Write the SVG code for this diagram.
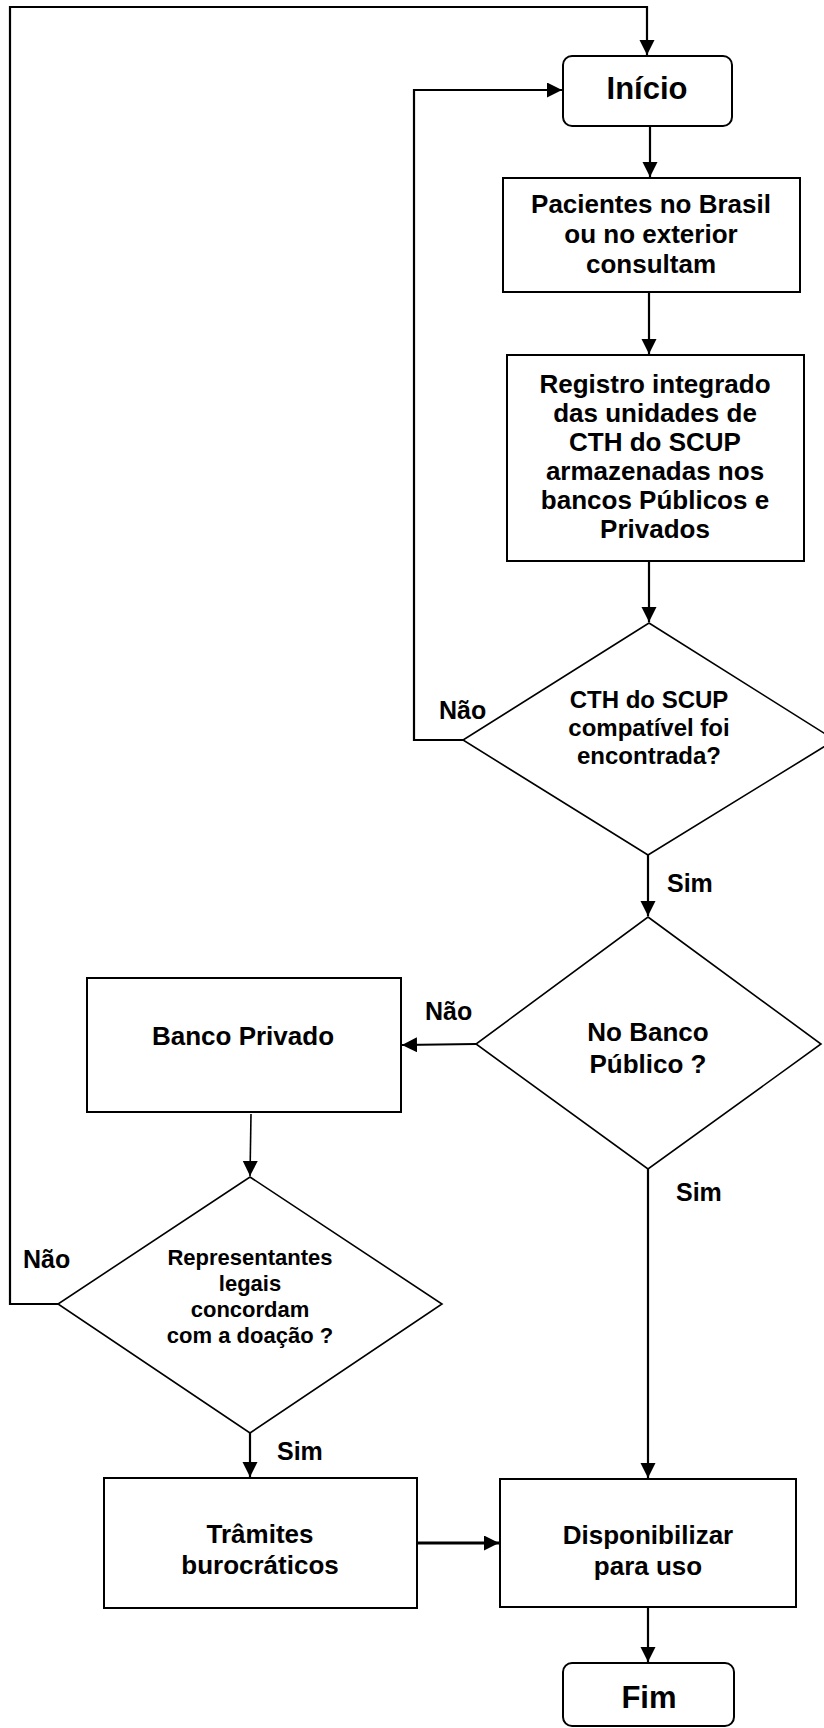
<svg xmlns="http://www.w3.org/2000/svg" width="824" height="1728" viewBox="0 0 824 1728">
<defs>
<marker id="ah" markerUnits="userSpaceOnUse" markerWidth="16" markerHeight="16" refX="15" refY="7.5" orient="auto">
<path d="M0,0 L15,7.5 L0,15 z" fill="#000"/>
</marker>
<style>
.box{fill:#fff;stroke:#000;stroke-width:2}
.dia{fill:#fff;stroke:#000;stroke-width:1.6}
.ln{fill:none;stroke:#000;stroke-width:2.2}
.t{font-family:"Liberation Sans",Arial,sans-serif;font-weight:bold;fill:#000;text-anchor:middle}
.big{font-size:31px}
.m{font-size:26px}
.d1{font-size:24px}
.d3{font-size:22px}
.lb{font-family:"Liberation Sans",Arial,sans-serif;font-weight:bold;fill:#000;font-size:25px}
</style>
</defs>
<rect width="824" height="1728" fill="#fff"/>
<g id="connectors">
<polyline class="ln" points="58,1304 10,1304 10,7 647,7 647,55" marker-end="url(#ah)"/>
<polyline class="ln" points="463,740 414,740 414,90 562,90" marker-end="url(#ah)"/>
<line class="ln" x1="650" y1="126" x2="650" y2="177" marker-end="url(#ah)"/>
<line class="ln" x1="649" y1="292" x2="649" y2="354" marker-end="url(#ah)"/>
<line class="ln" x1="649" y1="561" x2="649" y2="622" marker-end="url(#ah)"/>
<line class="ln" x1="648" y1="855" x2="648" y2="916" marker-end="url(#ah)"/>
<line class="ln" x1="476" y1="1044" x2="402" y2="1045" marker-end="url(#ah)"/>
<line class="ln" style="stroke-width:1.6" x1="251" y1="1114" x2="250" y2="1176" marker-end="url(#ah)"/>
<line class="ln" x1="648" y1="1169" x2="648" y2="1478" marker-end="url(#ah)"/>
<line class="ln" x1="250" y1="1433" x2="250" y2="1477" marker-end="url(#ah)"/>
<line class="ln" style="stroke-width:3" x1="417" y1="1543" x2="499" y2="1543" marker-end="url(#ah)"/>
<line class="ln" x1="648" y1="1606" x2="648" y2="1662" marker-end="url(#ah)"/>
</g>
<g id="inicio">
<rect class="box" x="563" y="56" width="169" height="70" rx="9"/>
<text class="t big" x="647" y="99">Início</text>
</g>
<g id="pacientes">
<rect class="box" x="503" y="178" width="297" height="114"/>
<text class="t m" x="651" y="213">Pacientes no Brasil</text>
<text class="t m" x="651" y="243">ou no exterior</text>
<text class="t m" x="651" y="273">consultam</text>
</g>
<g id="registro">
<rect class="box" x="507" y="355" width="297" height="206"/>
<text class="t m" x="655" y="393">Registro integrado</text>
<text class="t m" x="655" y="422">das unidades de</text>
<text class="t m" x="655" y="451">CTH do SCUP</text>
<text class="t m" x="655" y="480">armazenadas nos</text>
<text class="t m" x="655" y="509">bancos Públicos e</text>
<text class="t m" x="655" y="538">Privados</text>
</g>
<g id="decisao-cth">
<polygon class="dia" points="649,623 835,740 648,855 463,740"/>
<text class="t d1" x="649" y="708">CTH do SCUP</text>
<text class="t d1" x="649" y="736">compatível foi</text>
<text class="t d1" x="649" y="764">encontrada?</text>
<text class="lb" x="439" y="719">Não</text>
<text class="lb" x="667" y="892">Sim</text>
</g>
<g id="decisao-publico">
<polygon class="dia" points="648,917 821,1044 648,1169 476,1044"/>
<text class="t m" x="648" y="1041">No Banco</text>
<text class="t m" x="648" y="1073">Público ?</text>
<text class="lb" x="425" y="1020">Não</text>
<text class="lb" x="676" y="1201">Sim</text>
</g>
<g id="banco-privado">
<rect class="box" x="87" y="978" width="314" height="134"/>
<text class="t m" x="243" y="1045">Banco Privado</text>
</g>
<g id="decisao-representantes">
<polygon class="dia" points="250,1177 442,1304 250,1433 58,1304"/>
<text class="t d3" x="250" y="1265">Representantes</text>
<text class="t d3" x="250" y="1291">legais</text>
<text class="t d3" x="250" y="1317">concordam</text>
<text class="t d3" x="250" y="1343">com a doação ?</text>
<text class="lb" x="23" y="1268">Não</text>
<text class="lb" x="277" y="1460">Sim</text>
</g>
<g id="tramites">
<rect class="box" x="104" y="1478" width="313" height="130"/>
<text class="t m" x="260" y="1543">Trâmites</text>
<text class="t m" x="260" y="1574">burocráticos</text>
</g>
<g id="disponibilizar">
<rect class="box" x="500" y="1479" width="296" height="128"/>
<text class="t m" x="648" y="1544">Disponibilizar</text>
<text class="t m" x="648" y="1575">para uso</text>
</g>
<g id="fim">
<rect class="box" x="563" y="1663" width="171" height="63" rx="9"/>
<text class="t big" x="649" y="1708">Fim</text>
</g>
</svg>
